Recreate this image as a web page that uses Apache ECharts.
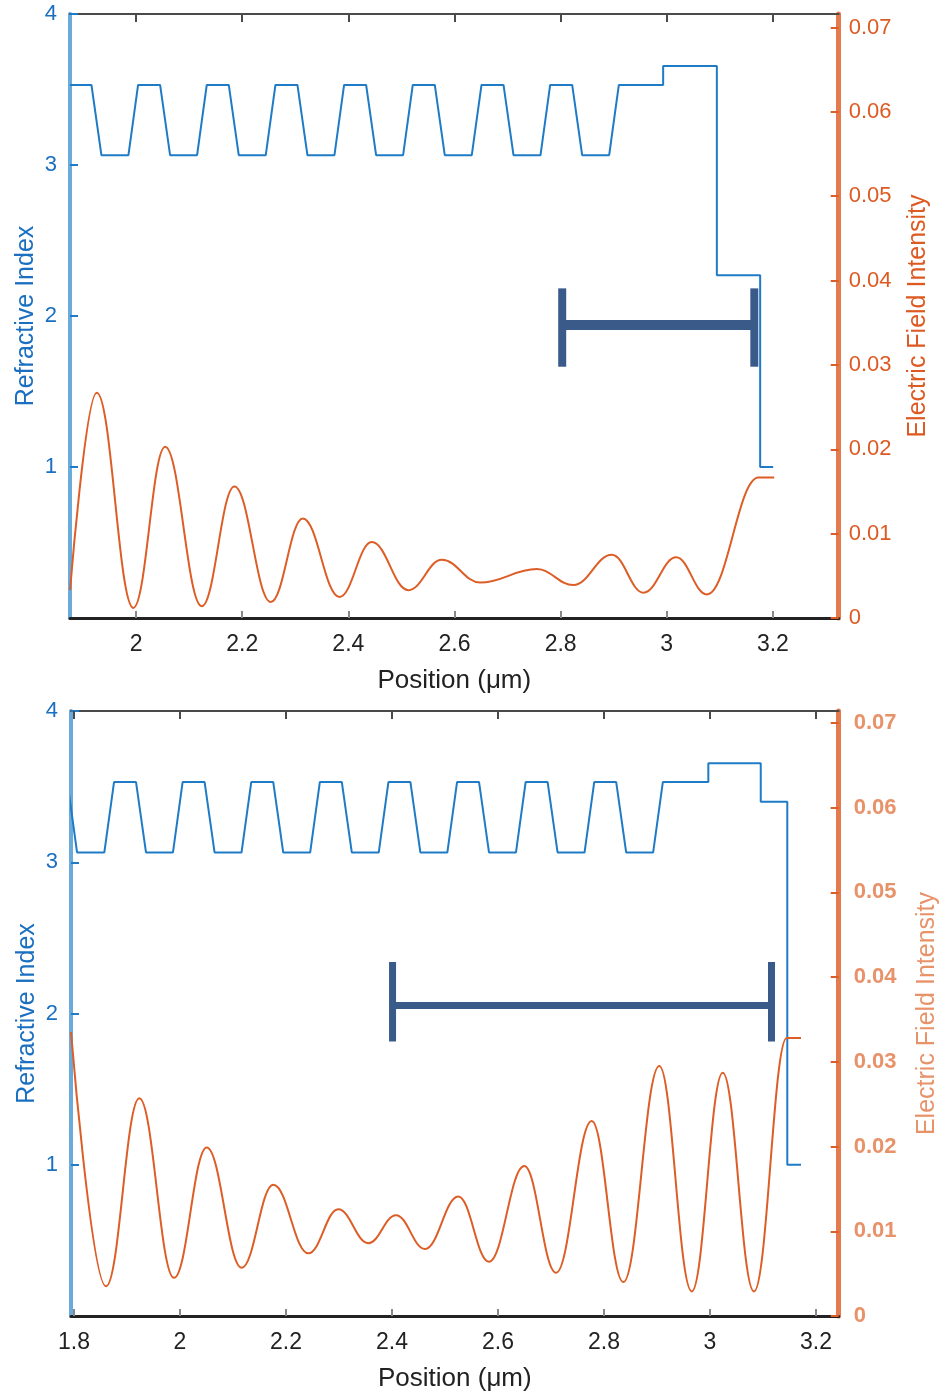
<!DOCTYPE html>
<html>
<head>
<meta charset="utf-8">
<script src="https://cdn.jsdelivr.net/npm/echarts@6/dist/echarts.min.js"></script>
<style>
html,body{margin:0;padding:0;background:#ffffff;}
#chart{width:940px;height:1393px;}
</style>
</head>
<body>
<div id="chart"></div>
<script>
// ---------- data ----------
const xTicksTop = [2, 2.2, 2.4, 2.6, 2.8, 3, 3.2];
const xTicksBottom = [1.8, 2, 2.2, 2.4, 2.6, 2.8, 3, 3.2];
const indexTicks = [1, 2, 3, 4];
const fieldTicks = [0, 0.01, 0.02, 0.03, 0.04, 0.05, 0.06, 0.07];

const xRangeTop = [1.8755, 3.324];
const xRangeBottom = [1.7943, 3.2428];
const indexRange = [0, 4];
const fieldRangeTop = [0, 0.0716];
const fieldRangeBottom = [0, 0.0714];

// refractive index profile, top panel: [position (um), index]
const indexTop = [
  [1.8755,3.53],[1.9159,3.53],[1.9347,3.065],[1.9856,3.065],
  [2.0038,3.53],[2.0453,3.53],[2.0641,3.065],[2.1150,3.065],
  [2.1332,3.53],[2.1747,3.53],[2.1935,3.065],[2.2444,3.065],
  [2.2626,3.53],[2.3041,3.53],[2.3229,3.065],[2.3738,3.065],
  [2.3920,3.53],[2.4335,3.53],[2.4523,3.065],[2.5032,3.065],
  [2.5214,3.53],[2.5629,3.53],[2.5817,3.065],[2.6326,3.065],
  [2.6509,3.53],[2.6924,3.53],[2.7112,3.065],[2.7621,3.065],
  [2.7803,3.53],[2.8218,3.53],[2.8406,3.065],[2.8915,3.065],
  [2.9097,3.53],[2.9932,3.53],[2.9932,3.655],[3.0944,3.655],
  [3.0944,2.27],[3.1760,2.27],[3.1760,1.0],[3.2005,1.0]
];
// electric field intensity, top panel: [position (um), intensity]
const fieldTop = [
  [1.8756,0.0033],[1.9259,0.0267],[1.9949,0.0012],[2.0547,0.0203],
  [2.1238,0.0014],[2.1853,0.0156],[2.2539,0.0019],[2.3142,0.0118],
  [2.3832,0.0025],[2.4442,0.0090],[2.5132,0.0033],[2.5761,0.0069],
  [2.6483,0.0042],[2.7552,0.0058],[2.8242,0.0039],[2.8965,0.0075],
  [2.9561,0.0030],[3.0177,0.0072],[3.0756,0.0028],[3.1728,0.01665],
  [3.2024,0.01665]
];
// refractive index profile, bottom panel
const indexBottom = [
  [1.7876,3.53],[1.8057,3.065],[1.8572,3.065],
  [1.8755,3.53],[1.9170,3.53],[1.9358,3.065],[1.9867,3.065],
  [2.0049,3.53],[2.0464,3.53],[2.0652,3.065],[2.1161,3.065],
  [2.1344,3.53],[2.1759,3.53],[2.1947,3.065],[2.2456,3.065],
  [2.2638,3.53],[2.3053,3.53],[2.3241,3.065],[2.3750,3.065],
  [2.3932,3.53],[2.4347,3.53],[2.4535,3.065],[2.5044,3.065],
  [2.5227,3.53],[2.5642,3.53],[2.5830,3.065],[2.6339,3.065],
  [2.6521,3.53],[2.6936,3.53],[2.7124,3.065],[2.7633,3.065],
  [2.7815,3.53],[2.8230,3.53],[2.8418,3.065],[2.8927,3.065],
  [2.9110,3.53],[2.9968,3.53],[2.9968,3.655],[3.0957,3.655],
  [3.0957,3.40],[3.1458,3.40],[3.1458,1.0],[3.1717,1.0]
];
// electric field intensity, bottom panel
const fieldBottom = [
  [1.7943,0.0335],[1.8604,0.0035],[1.9232,0.0257],[1.9887,0.0045],
  [2.0504,0.0199],[2.1164,0.0057],[2.1760,0.0155],[2.2421,0.0074],
  [2.2987,0.0126],[2.3553,0.0086],[2.4075,0.0119],[2.4623,0.0079],
  [2.5251,0.0141],[2.5830,0.0064],[2.6496,0.0177],[2.7094,0.0051],
  [2.7768,0.0230],[2.8364,0.0040],[2.9043,0.0295],[2.9655,0.0029],
  [3.0240,0.0287],[3.0830,0.0029],[3.1447,0.0328],[3.1717,0.0328]
];
// span markers (H-shaped bars)
const spanTopX = [2.803, 3.165];
const spanTopLevel = [1.94];
const spanTopCap = [1.664, 2.183];
const spanBottomX = [2.401, 3.116];
const spanBottomLevel = [2.053];
const spanBottomCap = [1.815, 2.340];

// ---------- style ----------
const FONT = 'Liberation Sans, Arial, Helvetica, sans-serif';
const BLUE = '#1f7bc6';
const BLUE_TXT = '#1a6fc0';
const BLUE_AXIS = '#6aabdb';
const ORANGE = '#dd5d26';
const ORANGE_AXIS = '#e47b4e';
const NAVY = '#3a5b8a';

const panels = [
  {grid:{left:70, top:14, width:768.7, height:604}, xr:xRangeTop, xt:xTicksTop, fr:fieldRangeTop,
   idx:indexTop, fld:fieldTop, sx:spanTopX, sl:spanTopLevel, sc:spanTopCap, barW:10, capW:8,
   rColor:'#dd5a22', rWeight:'normal', rGap:67, rMargin:10, lGap:31},
  {grid:{left:71, top:711, width:767.7, height:605}, xr:xRangeBottom, xt:xTicksBottom, fr:fieldRangeBottom,
   idx:indexBottom, fld:fieldBottom, sx:spanBottomX, sl:spanBottomLevel, sc:spanBottomCap, barW:7, capW:7,
   rColor:'#e8926a', rWeight:'bold', rGap:76, rMargin:15, lGap:31}
];

const fmt = v => String(+(+v).toFixed(4));

const option = {
  animation: false,
  backgroundColor: '#ffffff',
  textStyle: {fontFamily: FONT},
  grid: [], xAxis: [], yAxis: [], series: []
};

panels.forEach((p, i) => {
  option.grid.push(Object.assign({containLabel:false, outerBoundsMode:'none'}, p.grid));
  // bottom x axis
  option.xAxis.push({
    gridIndex:i, type:'value', position:'bottom', min:p.xr[0], max:p.xr[1],
    axisLine:{show:true, onZero:false, lineStyle:{color:'#222', width:3}},
    axisTick:{show:true, inside:true, length:7, customValues:p.xt, lineStyle:{color:'#888', width:2}},
    axisLabel:{show:true, customValues:p.xt, formatter:fmt, color:'#222', fontSize:23, margin:15, fontFamily:FONT},
    splitLine:{show:false},
    name:'Position (μm)', nameLocation:'middle', nameGap:50, nameMoveOverlap:false,
    nameTextStyle:{color:'#222', fontSize:26, fontFamily:FONT}
  });
  // top border axis
  option.xAxis.push({
    gridIndex:i, type:'value', position:'top', min:p.xr[0], max:p.xr[1],
    axisLine:{show:true, onZero:false, lineStyle:{color:'#4a4a4a', width:2}},
    axisTick:{show:true, inside:true, length:8, customValues:p.xt, lineStyle:{color:'#4a4a4a', width:2}},
    axisLabel:{show:false}, splitLine:{show:false}
  });
  // left: refractive index
  option.yAxis.push({
    gridIndex:i, type:'value', position:'left', min:indexRange[0], max:indexRange[1],
    axisLine:{show:true, onZero:false, lineStyle:{color:BLUE_AXIS, width:4}},
    axisTick:{show:true, inside:true, length:8, customValues:indexTicks, lineStyle:{color:BLUE, width:2}},
    axisLabel:{show:true, customValues:indexTicks, formatter:fmt, color:BLUE_TXT, fontSize:22, margin:13, fontFamily:FONT},
    splitLine:{show:false},
    name:'Refractive Index', nameLocation:'middle', nameGap:p.lGap, nameMoveOverlap:false,
    nameTextStyle:{color:BLUE_TXT, fontSize:25, fontFamily:FONT}
  });
  // right: electric field intensity
  option.yAxis.push({
    gridIndex:i, type:'value', position:'right', min:p.fr[0], max:p.fr[1],
    axisLine:{show:true, onZero:false, lineStyle:{color:ORANGE_AXIS, width:5}},
    axisTick:{show:true, inside:true, length:8, customValues:fieldTicks, lineStyle:{color:ORANGE, width:2}},
    axisLabel:{show:true, customValues:fieldTicks, formatter:fmt, color:p.rColor, fontWeight:p.rWeight, fontSize:22, margin:p.rMargin, fontFamily:FONT},
    splitLine:{show:false},
    name:'Electric Field Intensity', nameLocation:'middle', nameGap:p.rGap, nameMoveOverlap:false,
    nameTextStyle:{color:p.rColor, fontSize:25, fontFamily:FONT}
  });
  const xb = 2*i, yl = 2*i, yr = 2*i+1;
  option.series.push({
    type:'line', name:'index'+i, xAxisIndex:xb, yAxisIndex:yl, data:p.idx,
    symbol:'none', showSymbol:false, smooth:false, z:3,
    lineStyle:{color:BLUE, width:2}
  });
  option.series.push({
    type:'line', name:'field'+i, xAxisIndex:xb, yAxisIndex:yr, data:p.fld,
    symbol:'none', showSymbol:false, smooth:0.4, smoothMonotone:'x', z:4,
    lineStyle:{color:ORANGE, width:2}
  });
  option.series.push({
    type:'line', name:'span'+i, xAxisIndex:xb, yAxisIndex:yl,
    data:[[p.sx[0], p.sl[0]], [p.sx[1], p.sl[0]]],
    symbol:'none', showSymbol:false, z:5, lineStyle:{color:NAVY, width:p.barW, cap:'butt'}
  });
  p.sx.forEach((x, j) => {
    option.series.push({
      type:'line', name:'cap'+i+'_'+j, xAxisIndex:xb, yAxisIndex:yl,
      data:[[x, p.sc[0]], [x, p.sc[1]]],
      symbol:'none', showSymbol:false, z:5, lineStyle:{color:NAVY, width:p.capW, cap:'butt'}
    });
  });
});

const chart = echarts.init(document.getElementById('chart'), null, {renderer:'canvas'});
chart.setOption(option);
</script>
</body>
</html>
